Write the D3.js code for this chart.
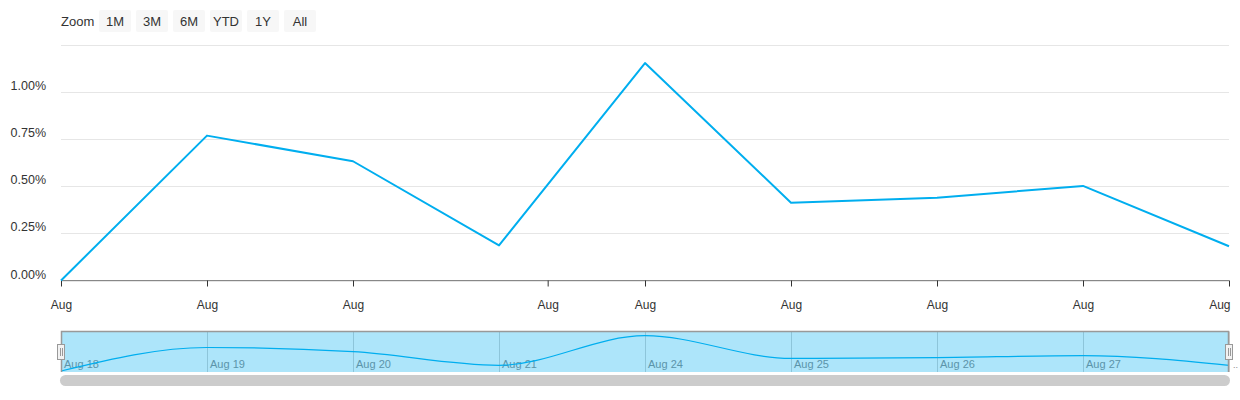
<!DOCTYPE html>
<html>
<head>
<meta charset="utf-8">
<script src="https://cdn.jsdelivr.net/npm/d3@7"></script>
<style>
  body{margin:0;background:#fff;}
  svg{display:block;font-family:"Liberation Sans",Arial,sans-serif;}
</style>
</head>
<body>
<div id="chart"></div>
<script>
// ---- data ----
var dates  = ["2020-08-18","2020-08-19","2020-08-20","2020-08-21","2020-08-24","2020-08-25","2020-08-26","2020-08-27","2020-08-28"];
var values = [0, 0.769, 0.633, 0.186, 1.154, 0.413, 0.439, 0.502, 0.182];
var yTicks = [0, 0.25, 0.5, 0.75, 1.0, 1.25];
var xTickDates = ["2020-08-18","2020-08-19","2020-08-20","2020-08-22","2020-08-24","2020-08-25","2020-08-26","2020-08-27","2020-08-28"];
var navLabelDates = ["2020-08-18","2020-08-19","2020-08-20","2020-08-21","2020-08-24","2020-08-25","2020-08-26","2020-08-27","2020-08-28"];
var zoomButtons = ["1M","3M","6M","YTD","1Y","All"];

var width = 1240, height = 400;
var left = 61, right = 1229;
var lineColor = "#00aeef";

var parse = d3.timeParse("%Y-%m-%d");
var data = dates.map(function(d,i){ return {date:parse(d), value:values[i]}; });

// ordinal x: every trading day gets an equal slot, weekends squeezed
var slot = d3.scalePoint().domain(d3.range(dates.length)).range([left,right]);
var x = d3.scaleTime()
    .domain(data.map(function(d){return d.date;}))
    .range(data.map(function(d,i){return slot(i);}));
var y = d3.scaleLinear().domain([0,1.25]).range([280.5,45]);
var yNav = d3.scaleLinear().domain([0,d3.max(values)]).range([371,335.7]);

var svg = d3.select("#chart").append("svg")
    .attr("width",width).attr("height",height);

// ---- range selector ----
var rs = svg.append("g");
rs.append("text").attr("x",61).attr("y",26).attr("font-size",13).attr("fill","#333").text("Zoom");
var btn = rs.selectAll("g.btn").data(zoomButtons).enter().append("g")
    .attr("transform",function(d,i){return "translate("+(99+i*37)+",10)";});
btn.append("rect").attr("width",32).attr("height",22).attr("rx",2).attr("fill","#f7f7f7");
btn.append("text").attr("x",16).attr("y",16).attr("text-anchor","middle")
    .attr("font-size",13).attr("fill","#333").text(function(d){return d;});

// ---- grid + y labels ----
svg.append("g").selectAll("line").data(yTicks).enter().append("line")
    .attr("x1",left).attr("x2",right)
    .attr("y1",function(d){return Math.round(y(d))+0.5;})
    .attr("y2",function(d){return Math.round(y(d))+0.5;})
    .attr("stroke","#e6e6e6").attr("stroke-width",1);
svg.append("g").selectAll("text").data(yTicks.slice(0,-1)).enter().append("text")
    .attr("x",46).attr("y",function(d){return y(d)-2;})
    .attr("text-anchor","end").attr("font-size",12.5).attr("fill","#333")
    .text(function(d){return d3.format(".2f")(d)+"%";});

// ---- x axis ----
var xAxis = d3.axisBottom(x)
    .tickValues(xTickDates.map(parse))
    .tickFormat(d3.timeFormat("%b"))
    .tickSizeInner(6).tickSizeOuter(0).tickPadding(14);
var gx = svg.append("g").attr("transform","translate(0,280.5)").call(xAxis);
gx.select(".domain").attr("stroke","#888").attr("d","M"+left+",0H"+right);
gx.selectAll(".tick line").attr("stroke","#333");
gx.selectAll(".tick text").attr("font-size",12).attr("fill","#333")
    .attr("font-family","\"Liberation Sans\",Arial,sans-serif");
gx.selectAll(".tick text").filter(function(d,i,n){return i===n.length-1;})
    .attr("text-anchor","end").attr("dx",1);

// ---- main series ----
var line = d3.line()
    .x(function(d){return x(d.date);})
    .y(function(d){return y(d.value);});
svg.append("path").datum(data).attr("d",line)
    .attr("fill","none").attr("stroke",lineColor).attr("stroke-width",2)
    .attr("stroke-linejoin","round");

// ---- navigator ----
var nav = svg.append("g");
var navTop = 331.5, navBottom = 372;
nav.append("g").selectAll("line").data(navLabelDates).enter().append("line")
    .attr("x1",function(d){return Math.round(x(parse(d)))+0.5;})
    .attr("x2",function(d){return Math.round(x(parse(d)))+0.5;})
    .attr("y1",navTop).attr("y2",navBottom)
    .attr("stroke","#d0d0d0");
nav.append("g").selectAll("text").data(navLabelDates).enter().append("text")
    .attr("x",function(d,i,n){return i===n.length-1 ? right+4 : x(parse(d))+3;})
    .attr("y",368).attr("font-size",function(d,i,n){return i===n.length-1 ? 9 : 11;})
    .attr("fill","#888")
    .text(function(d,i,n){return i===n.length-1 ? ".." : d3.timeFormat("%b %d")(parse(d)).replace(" 0"," ");});
var navLine = d3.line().curve(d3.curveMonotoneX)
    .x(function(d){return x(d.date);})
    .y(function(d){return yNav(d.value);});
nav.append("path").datum(data).attr("d",navLine)
    .attr("fill","none").attr("stroke",lineColor).attr("stroke-width",1.2);
// mask over full selected range
nav.append("rect").attr("x",left).attr("y",navTop).attr("width",right-left).attr("height",navBottom-navTop)
    .attr("fill","rgba(0,174,239,0.32)");
// outline
nav.append("path")
    .attr("d","M"+(left+0.5)+","+navBottom+"V"+navTop+"H"+(right-0.5)+"V"+navBottom)
    .attr("fill","none").attr("stroke","#999").attr("stroke-width",1.5);
// handles
var handles = nav.selectAll("g.handle").data([left,right]).enter().append("g")
    .attr("transform",function(d){return "translate("+(d-4)+",344)";});
handles.append("rect").attr("x",0.5).attr("y",0.5).attr("width",7).attr("height",15)
    .attr("fill","#f2f2f2").attr("stroke","#999");
handles.append("path").attr("d","M3.5,4V12M5.5,4V12").attr("stroke","#999").attr("fill","none");

// ---- scrollbar ----
svg.append("rect").attr("x",left-1).attr("y",375).attr("width",right-left+2).attr("height",11)
    .attr("rx",5.5).attr("fill","#cccccc");
</script>
</body>
</html>
